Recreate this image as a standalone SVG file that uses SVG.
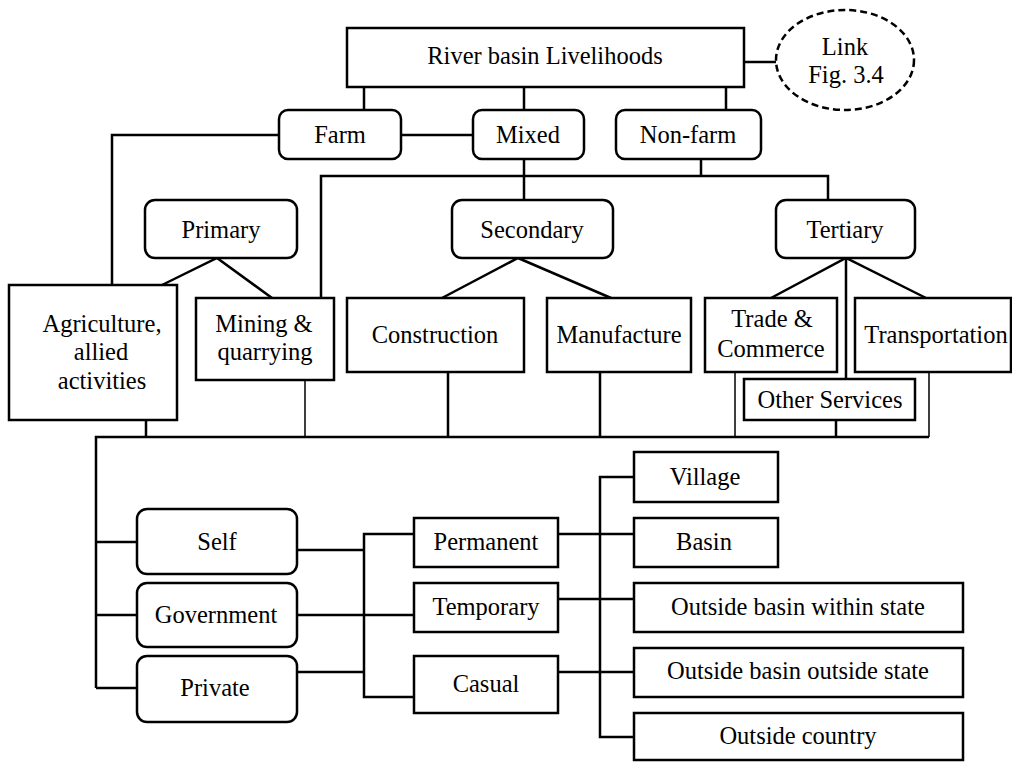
<svg xmlns="http://www.w3.org/2000/svg" width="1012" height="762" viewBox="0 0 1012 762">
  <style>
    .box { fill: #fff; stroke: #000; stroke-width: 2.5; }
    .rbox { fill: #fff; stroke: #000; stroke-width: 2.5; }
    .dash { fill: #fff; stroke: #000; stroke-width: 2.5; stroke-dasharray: 7 4; }
    .ln { fill: none; stroke: #000; stroke-width: 2.5; }
    .thin { fill: none; stroke: #000; stroke-width: 1.5; }
    text { font-family: "Liberation Serif", "Times New Roman", serif; font-size: 24.5px; fill: #000; text-anchor: middle; }
  </style>
  <rect width="1012" height="762" fill="#fff"/>

  <!-- connectors -->
  <g id="connectors">
    <!-- top level -->
    <path class="ln" d="M744 62H776"/>
    <path class="ln" d="M364 87V110M524 87V110M726 87V110"/>
    <path class="ln" d="M401 135H473"/>
    <path class="ln" d="M279 135H112V285"/>
    <!-- sector bus -->
    <path class="ln" d="M524 159V200M701 159V176M321 298V176H828V200"/>
    <!-- sector branches -->
    <path class="ln" d="M162 285L217 258L272 298"/>
    <path class="ln" d="M442 298L518 258L611 298"/>
    <path class="ln" d="M771 298L846 258L926 298M846 258V379"/>
    <!-- activity bus -->
    <path class="ln" d="M96 688V437H929"/>
    <path class="ln" d="M146 420V437M448 372V437M600 372V437M836 420V437"/>
    <path class="thin" d="M305 348V437M735 372V437M929 372V437"/>
    <!-- employer links -->
    <path class="ln" d="M96 542H137M96 615H137M96 688H137"/>
    <path class="ln" d="M297 550H364M297 615H414M297 672H364"/>
    <path class="ln" d="M414 534H364V697H414"/>
    <!-- location links -->
    <path class="ln" d="M558 534H634M558 599H634M558 672H634"/>
    <path class="ln" d="M634 477H600V737H634"/>
  </g>

  <g id="livelihoods">
    <rect class="box" x="347" y="28" width="397" height="59"/>
    <text x="545" y="64">River basin Livelihoods</text>
  </g>
  <g id="link">
    <ellipse class="dash" cx="845" cy="60" rx="69" ry="50"/>
    <text x="845" y="55">Link</text>
    <text x="846" y="83">Fig. 3.4</text>
  </g>

  <g id="farm">
    <rect class="rbox" x="279" y="110" width="122" height="49" rx="9"/>
    <text x="340" y="143">Farm</text>
  </g>
  <g id="mixed">
    <rect class="rbox" x="473" y="110" width="111" height="49" rx="9"/>
    <text x="528" y="143">Mixed</text>
  </g>
  <g id="non-farm">
    <rect class="rbox" x="616" y="110" width="145" height="49" rx="9"/>
    <text x="688" y="143">Non-farm</text>
  </g>

  <g id="primary">
    <rect class="rbox" x="145" y="200" width="152" height="58" rx="10"/>
    <text x="221" y="238">Primary</text>
  </g>
  <g id="secondary">
    <rect class="rbox" x="452" y="200" width="161" height="58" rx="10"/>
    <text x="532" y="238">Secondary</text>
  </g>
  <g id="tertiary">
    <rect class="rbox" x="776" y="200" width="139" height="58" rx="10"/>
    <text x="845" y="238">Tertiary</text>
  </g>

  <g id="agriculture">
    <rect class="box" x="9" y="285" width="168" height="135"/>
    <text x="102" y="332">Agriculture,</text>
    <text x="101" y="360">allied</text>
    <text x="102" y="389">activities</text>
  </g>
  <g id="mining">
    <rect class="box" x="196" y="298" width="138" height="82"/>
    <text x="264" y="332">Mining &amp;</text>
    <text x="265" y="360">quarrying</text>
  </g>
  <g id="construction">
    <rect class="box" x="347" y="298" width="177" height="74"/>
    <text x="435" y="343">Construction</text>
  </g>
  <g id="manufacture">
    <rect class="box" x="547" y="298" width="144" height="74"/>
    <text x="619" y="343">Manufacture</text>
  </g>
  <g id="trade">
    <rect class="box" x="705" y="298" width="132" height="74"/>
    <text x="772" y="327">Trade &amp;</text>
    <text x="771" y="357">Commerce</text>
  </g>
  <g id="transportation">
    <rect class="box" x="855" y="298" width="156" height="74"/>
    <text x="936" y="343">Transportation</text>
  </g>
  <g id="other-services">
    <rect class="box" x="744" y="379" width="171" height="41"/>
    <text x="830" y="408">Other Services</text>
  </g>

  <g id="self">
    <rect class="rbox" x="137" y="509" width="160" height="65" rx="10"/>
    <text x="217" y="550">Self</text>
  </g>
  <g id="government">
    <rect class="rbox" x="137" y="583" width="160" height="64" rx="10"/>
    <text x="216" y="623">Government</text>
  </g>
  <g id="private">
    <rect class="rbox" x="137" y="656" width="160" height="66" rx="10"/>
    <text x="215" y="696">Private</text>
  </g>

  <g id="permanent">
    <rect class="box" x="414" y="518" width="144" height="49"/>
    <text x="486" y="550">Permanent</text>
  </g>
  <g id="temporary">
    <rect class="box" x="414" y="583" width="144" height="49"/>
    <text x="486" y="615">Temporary</text>
  </g>
  <g id="casual">
    <rect class="box" x="414" y="656" width="144" height="57"/>
    <text x="486" y="692">Casual</text>
  </g>

  <g id="village">
    <rect class="box" x="634" y="452" width="144" height="50"/>
    <text x="705" y="485">Village</text>
  </g>
  <g id="basin">
    <rect class="box" x="634" y="518" width="144" height="49"/>
    <text x="704" y="550">Basin</text>
  </g>
  <g id="within-state">
    <rect class="box" x="634" y="583" width="329" height="49"/>
    <text x="798" y="615">Outside basin within state</text>
  </g>
  <g id="outside-state">
    <rect class="box" x="634" y="648" width="329" height="49"/>
    <text x="798" y="679">Outside basin outside state</text>
  </g>
  <g id="outside-country">
    <rect class="box" x="634" y="713" width="329" height="47"/>
    <text x="798" y="744">Outside country</text>
  </g>
</svg>
